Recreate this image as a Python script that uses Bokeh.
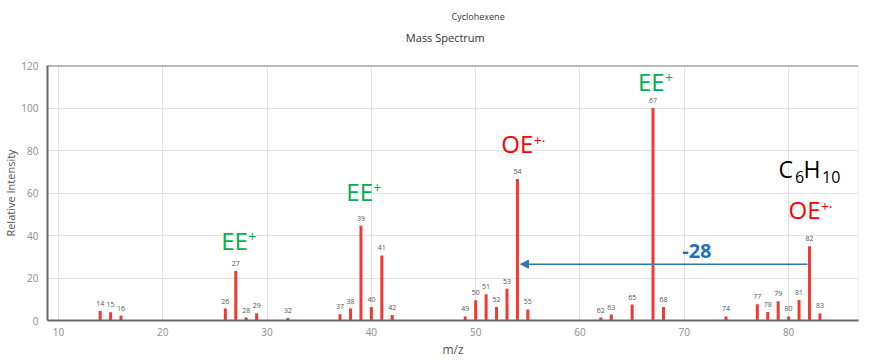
from bokeh.plotting import figure
from bokeh.layouts import column
from bokeh.models import (Label, Span, Arrow, NormalHead, ColumnDataSource,
                          FixedTicker, Range1d)
from bokeh.core.properties import value
from bokeh.embed import file_html
from bokeh.resources import INLINE

# ---- data ----
mz = [14, 15, 16, 26, 27, 28, 29, 32, 37, 38, 39, 40, 41, 42, 49, 50, 51, 52, 53,
      54, 55, 62, 63, 65, 67, 68, 74, 77, 78, 79, 80, 81, 82, 83]
intensity = [4.5, 3.9, 2.3, 5.6, 23.3, 1.4, 3.4, 1.2, 3.0, 5.6, 44.6, 6.3, 30.6, 2.6,
             1.9, 9.5, 12.3, 6.4, 15.0, 66.6, 5.2, 1.4, 2.8, 7.5, 100.0, 6.3, 1.9,
             7.7, 4.0, 9.1, 1.9, 9.7, 35.0, 3.3]
x_ticks = [10, 20, 30, 40, 50, 60, 70, 80]
y_ticks = [0, 20, 40, 60, 80, 100, 120]

# annotations: (text, superscript, x, y, color)
ion_notes = [("EE", "+", 25.6, 33.5, "#00b050"),
             ("EE", "+", 37.6, 56.7, "#00b050"),
             ("OE", "+·", 52.45, 79.0, "#ff0000"),
             ("EE", "+", 65.55, 108.5, "#00b050"),
             ("OE", "+·", 80.0, 48.0, "#ff0000")]
mol_ion = 82
loss_target = 54
loss_label = "-28"
title_main = "Cyclohexene"
title_sub = "Mass Spectrum"

FONT = "Open Sans"
W, TOP_H, H = 869, 57, 360

# ---- title strip (a figure of its own, in pixel units) ----
tf = figure(width=W, height=TOP_H, output_backend="svg", toolbar_location=None,
            x_range=Range1d(0, W), y_range=Range1d(TOP_H, 0),
            x_axis_type=None, y_axis_type=None, min_border=0)
tf.outline_line_color = None
tf.grid.visible = False
tf.text(x=[433], y=[16], text=[title_main], text_font=value(FONT),
        text_font_size="9px", text_color="#333333", text_baseline="middle",
        text_align="left")
tf.text(x=[384], y=[37], text=[title_sub], text_font=value(FONT),
        text_font_size="11px", text_color="#333333", text_baseline="middle",
        text_align="left")

# ---- spectrum ----
src = ColumnDataSource(dict(mz=mz, inten=intensity, zero=[0] * len(mz),
                            lab=[str(m) for m in mz]))

p = figure(width=W, height=H - TOP_H, output_backend="svg", toolbar_location=None,
           x_range=Range1d(8.95, 86.7), y_range=Range1d(0, 120),
           min_border_left=47, min_border_right=11, min_border_top=8,
           min_border_bottom=38)
p.outline_line_color = None
p.background_fill_color = "white"

for ax in (p.xaxis, p.yaxis):
    ax.axis_line_color = "#666666"
    ax.axis_line_width = 2
    ax.major_tick_line_color = None
    ax.minor_tick_line_color = None
    ax.major_label_text_font = FONT
    ax.major_label_text_font_size = "10px"
    ax.major_label_text_color = "#8a8a8a"
    ax.axis_label_text_font = FONT
    ax.axis_label_text_font_style = "normal"
    ax.axis_label_text_color = "#555555"
p.xaxis.axis_label_text_font_size = "12px"
p.yaxis.axis_label_text_font_size = "11px"
p.xaxis.ticker = FixedTicker(ticks=x_ticks)
p.yaxis.ticker = FixedTicker(ticks=y_ticks)
p.xaxis.axis_label = "m/z"
p.yaxis.axis_label = "Relative Intensity"
p.xaxis.major_label_standoff = 1
p.xaxis.axis_label_standoff = 2
p.yaxis.major_label_standoff = 3
p.yaxis.axis_label_standoff = 0

p.xgrid.grid_line_color = "#e2e2e2"
p.ygrid.grid_line_color = "#e2e2e2"

p.add_layout(Span(location=120, dimension="width", line_color="#777777", line_width=2))
p.add_layout(Span(location=86.7, dimension="height", line_color="#dddddd", line_width=1))

# bars
p.segment(x0="mz", y0="zero", x1="mz", y1="inten", source=src,
          line_color="#f03a32", line_width=3)
p.text(x="mz", y="inten", text="lab", source=src, text_font=value(FONT),
       text_font_size="7px", text_color="#555555", text_align="center",
       text_baseline="bottom", y_offset=-5)


def note(x, y, text, size, color, dx=0, dy=0, bold=False):
    # raise by part of the font size so that the letters sit on the baseline
    p.add_layout(Label(x=x, y=y, text=text, text_font=FONT,
                       text_font_size=f"{size}px", text_color=color,
                       text_font_style="bold" if bold else "normal",
                       text_baseline="alphabetic", text_align="left",
                       x_offset=dx, y_offset=dy + 0.36 * size))


for main, sup, x, y, col in ion_notes:
    note(x, y, main, 24, col)
    note(x, y, sup, 14, col, dx=27 if main == "EE" else 32.5, dy=7)

# C6H10
mx, my = 79.03, 67.3
for txt, dx, dy, fs in [("C", 0, 0, 23), ("6", 16.5, -5, 16),
                        ("H", 25, 0, 23), ("10", 43.5, -5, 16)]:
    note(mx, my, txt, fs, "#000000", dx=dx, dy=dy)

# arrow for the loss of 28
arrow_y = 26.5
p.add_layout(Arrow(end=NormalHead(size=8, fill_color="#2e75b6", line_color="#2e75b6"),
                   x_start=mol_ion - 0.2, y_start=arrow_y,
                   x_end=loss_target + 0.3, y_end=arrow_y,
                   line_color="#2e75b6", line_width=1.5))
note(69.8, 29.3, loss_label, 20, "#1f6fbf", bold=True)

layout = column(tf, p, spacing=0)
open("out.html", "w").write(file_html(layout, INLINE))
